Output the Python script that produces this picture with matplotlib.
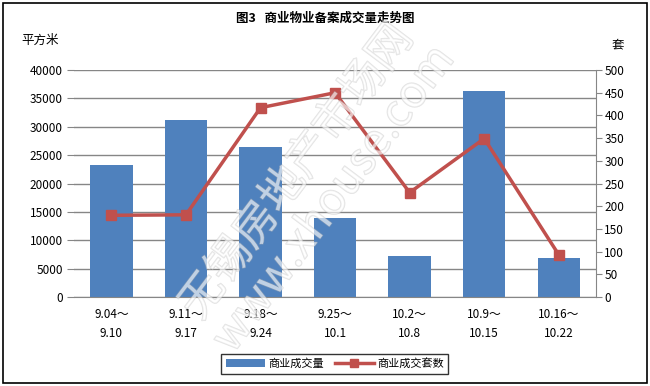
import numpy as np
import matplotlib.pyplot as plt
import matplotlib.patheffects as pe
from matplotlib.patches import Rectangle

plt.rcParams['font.family'] = ['Noto Sans CJK SC', 'DejaVu Sans']

weeks = ["9.04～\n9.10", "9.11～\n9.17", "9.18～\n9.24", "9.25～\n10.1",
         "10.2～\n10.8", "10.9～\n10.15", "10.16～\n10.22"]
area = [23300, 31200, 26450, 14000, 7300, 36300, 6900]   # 商业成交量 (平方米)
units = [180, 181, 417, 450, 230, 349, 93]               # 商业成交套数 (套)

bar_color = "#4F81BD"
line_color = "#C0504D"
grid_color = "#868686"

fig = plt.figure(figsize=(6.5, 3.86), dpi=100)
ax = fig.add_axes([0.114, 0.2306, 0.803, 0.588])
ax2 = ax.twinx()

x = np.arange(len(weeks))
ax.bar(x, area, width=0.57, color=bar_color, zorder=2, label="商业成交量")
ax2.plot(x, units, color=line_color, lw=2.5, marker="s", ms=7,
         mec=line_color, mfc=line_color, zorder=3, label="商业成交套数")

ax.set_xlim(-0.5, len(weeks) - 0.5)
ax.set_ylim(0, 40000)
ax.set_yticks(np.arange(0, 40001, 5000))
ax2.set_ylim(0, 500)
ax2.set_yticks(np.arange(0, 501, 50))
ax.yaxis.grid(True, color=grid_color, lw=1, zorder=0)
ax.set_axisbelow(True)

for a in (ax, ax2):
    for s in ("top", "left"):
        a.spines[s].set_visible(False)
ax.spines["right"].set_visible(False)
ax2.spines["bottom"].set_visible(False)
ax.spines["bottom"].set_color(grid_color)
ax2.spines["right"].set_color(grid_color)

ax.set_xticks(x)
ax.set_xticklabels(weeks, fontsize=8.5, linespacing=1.6)
ax.tick_params(axis="x", length=0, pad=8)
ax.tick_params(axis="y", length=5, color=grid_color, labelsize=8.5, pad=3)
ax2.tick_params(axis="y", length=4, color=grid_color, labelsize=8.5, pad=2)

ax2.set_zorder(ax.get_zorder() + 1)
ax2.patch.set_visible(False)

fig.text(0.5, 0.953, "图3   商业物业备案成交量走势图", ha="center", va="center",
         fontsize=9, fontweight="bold")
fig.text(0.062, 0.895, "平方米", ha="center", va="center", fontsize=9)
fig.text(0.95, 0.885, "套", ha="center", va="center", fontsize=9)

# faint outlined watermark
wm = fig.text(0.485, 0.52, "无锡房地产市场网\nwww.xhouse.com", ha="center", va="center",
              fontsize=32, rotation=53, color="white", alpha=0.4, zorder=10,
              linespacing=1.0)
wm.set_path_effects([pe.Stroke(linewidth=1.0, foreground="#b8b8b8"), pe.Normal()])

h1, l1 = ax.get_legend_handles_labels()
h2, l2 = ax2.get_legend_handles_labels()
fig.legend(h1 + h2, l1 + l2, loc="center", bbox_to_anchor=(0.515, 0.058), ncol=2,
           fontsize=8, frameon=True, fancybox=False, edgecolor="black",
           handlelength=3.5, columnspacing=1.0, borderpad=0.4, handletextpad=0.3,
           markerscale=0.75)

fig.patches.append(Rectangle((0.005, 0.008), 0.99, 0.984, transform=fig.transFigure,
                             fill=False, edgecolor="black", lw=1.2))

fig.savefig("out.png", dpi=100)
